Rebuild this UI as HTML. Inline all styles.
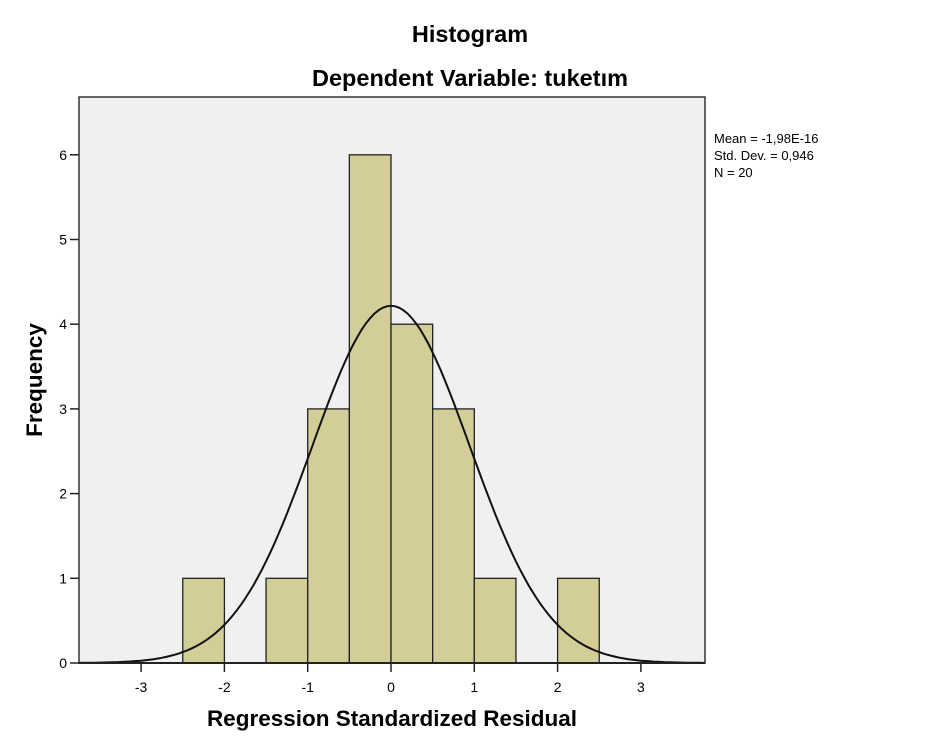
<!DOCTYPE html>
<html><head><meta charset="utf-8"><style>
body{margin:0;background:#fff;width:941px;height:752px;overflow:hidden}
svg{display:block}
text{font-family:"Liberation Sans",Arial,sans-serif}
</style></head><body>
<svg id="s" width="941" height="752" xmlns="http://www.w3.org/2000/svg">
<text x="470" y="42" font-size="23.5" font-weight="bold" text-anchor="middle">Histogram</text>
<text x="470" y="86" font-size="23.5" font-weight="bold" text-anchor="middle">Dependent Variable: tuketım</text>
<rect x="79" y="97" width="626" height="566" fill="#f0f0f0" stroke="#333" stroke-width="1.5"/>
<g id="bars" fill="#d3ce98" stroke="#222" stroke-width="1.3"></g>
<path id="curve" fill="none" stroke="#111" stroke-width="2"/>
<line x1="79" y1="663" x2="705" y2="663" stroke="#222" stroke-width="2"/>
<g id="ticks" stroke="#222" stroke-width="1.5"></g>
<g id="labels" font-size="14" fill="#000"></g>
<text x="714" y="143" font-size="13">Mean = -1,98E-16</text>
<text x="714" y="160" font-size="13">Std. Dev. = 0,946</text>
<text x="714" y="177" font-size="13">N = 20</text>
<text x="392" y="726" font-size="22.5" font-weight="bold" text-anchor="middle">Regression Standardized Residual</text>
<text transform="translate(42,380) rotate(-90)" font-size="22.5" font-weight="bold" text-anchor="middle">Frequency</text>
</svg>
<script>
var X=function(v){return 391+v*83.3},Y=function(v){return 663-v*84.7};
var ns="http://www.w3.org/2000/svg";
function el(p,t,a){var e=document.createElementNS(ns,t);for(var k in a)e.setAttribute(k,a[k]);p.appendChild(e);return e}
var data=[[-2.5,1],[-1.5,1],[-1,3],[-0.5,6],[0,4],[0.5,3],[1,1],[2,1]];
var b=document.getElementById('bars');
data.forEach(function(d){el(b,'rect',{x:X(d[0]),y:Y(d[1]),width:83.3/2,height:d[1]*84.7})});
var p="";for(var v=-3.75;v<=3.76;v+=0.05){var y=20*0.5/(0.946*Math.sqrt(2*Math.PI))*Math.exp(-v*v/(2*0.946*0.946));p+=(p?"L":"M")+X(v).toFixed(1)+","+Y(y).toFixed(1)}
document.getElementById('curve').setAttribute('d',p);
var t=document.getElementById('ticks'),l=document.getElementById('labels');
for(var i=-3;i<=3;i++){el(t,'line',{x1:X(i),y1:663,x2:X(i),y2:672});var e=el(l,'text',{x:X(i),y:692,'text-anchor':'middle'});e.textContent=i}
for(var j=0;j<=6;j++){el(t,'line',{x1:70,y1:Y(j),x2:79,y2:Y(j)});var e2=el(l,'text',{x:67,y:Y(j)+5,'text-anchor':'end'});e2.textContent=j}
</script>
</body></html>
